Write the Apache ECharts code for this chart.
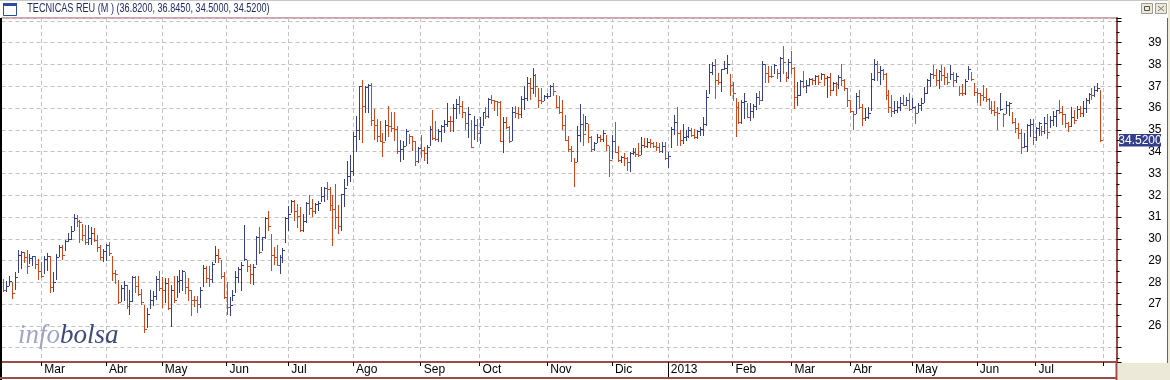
<!DOCTYPE html>
<html><head><meta charset="utf-8">
<script src="https://cdn.jsdelivr.net/npm/echarts@6/dist/echarts.min.js"></script>
<style>html,body{margin:0;padding:0;background:#fff}#c{width:1170px;height:380px}</style>
</head><body><div id="c"></div>
<script>
// ---- data (daily H / L / C, Feb 2012 - Jul 2013) ----
const highs = [
28.16,28.08,28.31,28.00,28.49,29.49,29.46,29.41,29.49,29.30,
29.23,29.23,29.08,28.95,29.23,29.35,29.23,28.46,29.30,29.70,
29.70,29.96,30.28,30.58,31.14,31.10,30.88,30.67,30.61,30.64,
30.56,30.48,30.19,
29.73,29.53,29.78,29.84,29.20,28.58,28.13,27.90,28.08,27.90,
27.67,28.28,28.31,28.31,27.71,26.98,26.83,27.67,27.59,28.28,
28.51,28.23,28.20,28.20,27.90,28.28,28.28,28.55,28.58,28.46,
28.20,27.67,27.36,
27.38,27.79,28.80,28.76,28.76,28.92,29.67,29.52,29.03,28.47,
28.01,27.34,27.66,28.53,28.71,28.92,30.63,29.03,28.83,28.83,
30.15,30.56,30.10,30.98,31.27,30.21,29.60,29.72,29.26,29.56,
30.98,31.50,
31.79,31.79,31.59,31.44,31.15,31.68,31.99,31.84,31.64,31.75,
32.39,32.36,32.60,32.36,31.99,32.51,31.56,32.07,32.76,33.58,
33.86,34.88,35.65,37.02,37.27,36.99,37.11,37.16,35.97,35.49,
35.39,34.85,35.46,36.10,35.84,35.84,35.16,34.54,34.47,35.05,
34.82,34.70,34.47,34.21,34.77,34.21,34.31,35.16,35.92,35.39,
35.03,35.23,35.43,36.21,35.65,36.20,36.41,36.53,36.30,35.84,
36.04,35.46,35.65,35.51,35.61,35.83,36.07,36.46,36.61,36.38,
36.33,36.30,35.61,35.61,35.16,36.07,36.10,36.07,36.53,36.99,
37.42,37.37,37.83,37.57,36.91,36.91,36.61,36.68,37.07,37.14,
36.61,36.53,36.35,35.69,34.70,34.27,33.70,35.16,36.20,
35.72,35.63,35.27,34.72,34.46,34.81,34.76,34.99,34.76,34.26,
34.76,35.37,34.26,33.80,33.92,33.77,34.00,34.15,34.15,34.38,
34.66,34.61,34.61,34.56,34.46,34.43,34.38,34.43,34.46,34.00,
35.11,35.68,36.03,34.99,35.27,34.99,35.11,35.07,35.04,34.99,
35.11,35.57,36.85,38.04,38.12,38.24,37.63,37.81,38.15,38.42,
37.58,37.19,36.44,36.29,36.39,36.67,36.21,36.24,36.18,36.67,
36.78,38.15,38.01,37.92,37.92,38.04,37.81,38.34,38.85,37.66,
38.24,38.60,37.89,37.20,37.28,37.69,37.28,37.40,37.40,37.51,
37.51,37.63,37.58,37.46,37.63,37.20,37.20,37.51,38.04,
37.35,36.90,36.36,35.86,36.71,36.82,36.18,36.01,36.06,37.63,
38.24,38.15,37.92,37.78,37.63,36.85,36.59,36.32,36.32,36.52,
36.59,36.52,36.71,36.44,36.09,36.21,36.44,36.97,37.32,37.63,
37.96,37.81,37.73,37.96,37.89,37.63,37.96,37.66,37.63,37.00,
37.09,37.31,37.92,37.66,37.17,36.94,36.71,37.05,36.94,36.44,
36.33,36.32,36.06,36.71,35.78,36.33,36.29,35.80,35.52,35.33,
35.04,34.84,35.25,35.49,35.49,35.14,35.37,35.19,35.57,35.72,
35.63,35.86,35.91,36.36,36.09,35.72,35.37,36.03,35.91,36.09,
36.09,36.33,36.44,36.70,36.94,37.02,37.17,36.845
];
const lows = [
27.59,27.62,27.90,27.28,27.71,28.46,28.68,28.94,28.42,28.89,
28.78,28.68,28.17,28.23,28.43,28.59,27.57,27.59,28.17,29.21,
29.06,29.47,29.92,29.99,30.41,30.58,29.84,29.96,29.78,29.75,
29.78,29.92,29.43,
29.07,28.97,29.04,29.27,28.13,27.97,27.06,27.13,27.21,26.83,
26.55,27.13,27.54,27.44,27.01,25.71,25.95,26.81,26.98,27.25,
27.67,26.87,27.12,26.78,25.98,27.10,27.31,27.54,27.67,27.51,
27.21,26.49,26.90,
26.62,26.85,27.81,28.01,27.85,28.01,28.95,28.92,28.19,27.27,
26.54,26.48,27.17,27.58,28.01,27.66,29.03,28.50,27.96,27.92,
28.85,29.34,29.49,30.02,30.40,28.57,28.85,28.80,28.42,28.95,
29.87,30.40,
31.21,30.87,30.52,30.37,30.34,30.75,31.13,31.03,31.18,31.33,
31.72,31.72,31.84,31.33,29.70,30.49,30.26,30.39,31.49,32.45,
32.63,32.94,34.04,34.57,34.44,35.80,35.80,35.23,34.57,34.50,
34.50,33.78,34.54,34.70,34.96,34.54,33.93,33.55,33.67,34.31,
34.39,34.09,33.40,33.52,33.75,33.63,33.50,34.31,34.59,34.55,
34.47,34.51,34.90,35.16,34.93,34.93,35.54,35.77,35.61,35.05,
34.67,34.19,34.57,34.50,34.39,35.23,35.54,35.61,36.23,35.92,
35.66,34.47,33.96,35.08,34.44,34.54,35.58,35.54,35.61,35.97,
36.38,36.41,36.68,36.53,36.07,36.23,36.38,36.46,36.53,36.58,
36.04,35.77,35.05,34.54,34.01,33.55,32.40,33.55,34.51,
34.30,34.99,34.46,34.05,34.08,34.46,34.50,34.50,34.08,32.86,
33.73,34.00,33.59,33.54,33.39,33.16,33.13,33.89,33.82,33.82,
33.89,34.23,34.20,34.23,34.23,34.08,34.00,34.00,33.65,33.31,
34.23,34.81,34.30,34.30,34.41,34.53,34.66,34.72,34.61,34.61,
34.76,34.76,35.22,36.70,37.55,36.47,37.12,36.77,37.77,37.63,
36.59,36.39,34.72,35.33,35.30,35.52,35.57,35.45,35.57,35.94,
36.18,36.36,37.20,37.20,37.43,37.61,37.40,37.23,37.61,37.23,
37.38,37.61,36.01,36.13,36.59,36.97,36.74,37.05,37.09,37.09,
37.12,37.32,37.08,36.52,36.59,36.82,36.62,36.90,37.08,
36.85,36.09,35.83,35.04,35.75,36.01,35.22,35.45,35.52,35.91,
37.28,37.28,37.09,37.35,36.41,35.83,35.65,35.75,35.83,35.91,
36.13,36.13,35.91,35.98,35.33,35.83,35.91,36.29,36.70,37.02,
37.38,37.05,36.94,37.28,37.12,37.09,37.32,37.00,37.20,36.62,
36.62,36.64,37.35,37.28,36.62,36.26,36.13,36.36,36.33,35.95,
35.75,35.68,35.04,35.91,35.19,35.75,35.68,35.33,34.91,34.64,
33.95,34.20,34.05,34.72,34.34,34.53,34.76,34.76,34.87,34.61,
35.14,35.22,35.17,35.75,35.25,35.14,34.96,35.17,35.33,35.52,
35.63,35.63,35.83,36.21,36.41,36.55,36.77,34.50
];
const closes = [
27.67,27.82,28.08,27.51,28.25,29.26,29.38,29.17,28.77,29.12,
29.20,28.86,28.54,28.28,29.06,29.20,27.80,28.00,29.15,29.63,
29.27,29.92,29.99,30.36,30.94,30.80,30.75,30.19,29.87,30.02,
30.25,29.95,29.63,
29.17,29.43,29.70,29.35,28.43,28.40,27.10,27.74,27.88,26.93,
27.13,28.25,27.82,27.47,27.10,25.86,26.55,27.21,27.36,28.17,
27.74,27.67,27.97,26.83,27.67,27.21,28.05,28.12,28.51,27.79,
27.67,27.21,27.18,
27.02,27.64,28.65,28.19,28.15,28.83,29.24,29.11,28.28,27.35,
26.89,26.97,27.40,28.24,28.60,28.80,29.06,28.76,28.39,28.69,
30.08,29.41,30.07,30.95,30.60,29.26,29.18,28.80,29.17,29.50,
30.95,31.14,
31.75,31.29,31.06,30.42,30.80,31.64,31.41,31.29,31.61,31.66,
31.98,32.33,32.28,31.56,31.38,31.00,30.60,32.05,32.33,32.86,
33.12,34.73,35.00,36.99,36.10,36.96,37.07,35.46,35.23,34.73,
34.50,34.42,35.23,35.19,35.08,35.03,34.01,34.12,34.27,34.96,
34.73,34.47,33.58,34.18,34.09,33.93,34.21,35.03,34.62,34.58,
34.93,35.19,35.28,35.42,35.40,36.00,36.20,36.10,35.84,35.31,
35.74,34.21,35.23,34.85,35.13,35.80,35.65,36.42,36.38,36.30,
36.26,34.50,35.34,35.13,34.47,35.81,35.77,35.72,36.41,36.45,
37.14,36.91,37.53,37.02,36.38,36.30,36.53,36.56,37.02,36.76,
36.04,35.84,35.23,34.54,34.12,34.01,33.52,34.77,35.28,
34.79,35.30,34.69,34.12,34.41,34.69,34.60,34.84,34.30,33.62,
34.49,34.00,33.62,33.74,33.70,33.54,33.92,34.00,33.89,33.86,
34.30,34.26,34.43,34.38,34.26,34.20,34.05,34.26,33.70,33.80,
35.04,35.34,34.85,34.53,34.66,34.72,34.99,34.75,34.66,34.96,
35.02,35.25,36.52,37.66,37.99,37.28,37.20,37.77,37.86,38.01,
37.05,36.71,36.06,35.37,36.29,36.33,35.57,35.86,36.10,36.52,
36.39,38.04,37.63,37.48,37.45,37.99,37.61,38.31,38.13,37.43,
38.12,37.84,36.52,36.59,37.25,37.00,37.05,37.31,37.27,37.48,
37.20,37.58,37.38,37.41,36.82,37.16,37.12,37.43,37.28,
36.90,36.36,35.86,35.72,36.55,36.03,35.52,35.60,35.75,37.31,
38.01,37.66,37.73,37.55,36.59,36.06,35.86,35.91,36.03,36.21,
36.16,36.36,35.95,36.03,35.78,36.13,36.21,36.67,37.28,37.55,
37.51,37.28,37.69,37.51,37.43,37.20,37.58,37.28,37.46,36.70,
36.67,37.25,37.81,37.31,36.74,36.67,36.59,36.52,36.41,35.98,
35.91,35.83,35.75,35.95,35.72,36.13,36.21,35.37,35.10,34.84,
34.20,34.26,35.22,35.27,34.66,35.10,35.30,34.96,35.30,34.91,
35.45,35.63,35.89,35.80,35.71,35.30,35.19,35.57,35.45,35.95,
35.75,35.98,36.36,36.64,36.59,36.85,36.90,34.52
];
const lastOpen = 36.82;
const slotCount = 379;                 // trading-day slots on the time axis
const monthTickIndex = [13,35,54,76,97,119,142,162,185,207,226,248,268,288,309,331,351,374];
const monthTickLabel = ['Mar','Abr','May','Jun','Jul','Ago','Sep','Oct','Nov','Dic','2013','Feb','Mar','Abr','May','Jun','Jul',''];
const yearTickIndex = 226;
const yTickLabels = [26,27,28,29,30,31,32,33,34,35,36,37,38,39];
const titleName = 'TECNICAS REU (M )';

// ---- chart ----
const categories = Array.from({length: slotCount}, (_, i) => String(i));
const tickSet = new Set(monthTickIndex);
const labelMap = new Map(monthTickIndex.map((d, i) => [d, monthTickLabel[i]]));
const BLUE = '#353f8d', ORANGE = '#d3461c';
const seriesData = highs.map((h, i) => [i, h, lows[i], closes[i], (i > 0 && closes[i] > closes[i - 1]) ? 1 : 0]);
const last = closes.length - 1;
const fmt = v => v.toFixed(4);
const titleText = titleName + ' (' + [lastOpen, highs[last], lows[last], closes[last]].map(fmt).join(', ') + ')';

function renderItem(params, api) {
  const i = api.value(0);
  const pH = api.coord([i, api.value(1)]);
  const pL = api.coord([i, api.value(2)]);
  const pC = api.coord([i, api.value(3)]);
  const color = api.value(4) ? BLUE : ORANGE;
  const x = Math.round(pH[0]) + 0.5;
  const yH = Math.round(pH[1]), yL = Math.round(pL[1]), yC = Math.round(pC[1]) + 0.5;
  return {type: 'group', children: [
    {type: 'line', shape: {x1: x, y1: yH, x2: x, y2: yL + 1}, style: {stroke: color, lineWidth: 1}},
    {type: 'line', shape: {x1: x + 0.5, y1: yC, x2: x + 2.5, y2: yC}, style: {stroke: color, lineWidth: 1}}
  ]};
}

const FRAME = '#9c4a4a';
const SANS = 'Liberation Sans, Arial, sans-serif';
const chart = echarts.init(document.getElementById('c'), null, {renderer: 'canvas'});
chart.setOption({
  animation: false,
  backgroundColor: '#fff',
  grid: {left: 1.5, right: 53.5, top: 18, bottom: 18, show: true, borderColor: FRAME, borderWidth: 1, backgroundColor: '#fff'},
  xAxis: [{
    type: 'category', data: categories, boundaryGap: true, position: 'bottom',
    axisLine: {show: true, lineStyle: {color: FRAME, width: 2}},
    axisTick: {show: true, alignWithLabel: true, interval: i => tickSet.has(i), length: 4, lineStyle: {color: '#000'}},
    axisLabel: {show: true, interval: i => !!labelMap.get(i), formatter: v => labelMap.get(Number(v)) || '',
      align: 'left', padding: [0, 0, 0, 3], margin: 2, color: '#000', fontSize: 12, fontFamily: SANS},
    splitLine: {show: true, alignWithLabel: true, interval: i => tickSet.has(i), lineStyle: {color: '#c3c3c3', type: [4, 3]}}
  }, {
    type: 'category', data: categories, boundaryGap: true, position: 'bottom',
    axisLine: {show: false}, axisLabel: {show: false}, splitLine: {show: false},
    axisTick: {show: true, alignWithLabel: true, interval: i => i === yearTickIndex, length: 16, lineStyle: {color: '#000'}}
  }],
  yAxis: {
    type: 'value', position: 'right', min: 24.345, max: 40.132, minInterval: 1, maxInterval: 1,
    axisLine: {show: true, lineStyle: {color: FRAME, width: 2}},
    axisTick: {show: true, length: 5, lineStyle: {color: '#000'}},
    minorTick: {show: true, splitNumber: 2, length: 3, lineStyle: {color: '#000'}},
    splitLine: {show: true, lineStyle: {color: '#c3c3c3', type: [4, 3]}},
    axisLabel: {color: '#000', fontSize: 12, fontFamily: SANS, align: 'right', margin: 45,
      formatter: v => { const r = Math.round(v); return (Math.abs(v - r) < 1e-6 && yTickLabels.includes(r)) ? String(r) : ''; }}
  },
  series: [{type: 'custom', renderItem, data: seriesData, xAxisIndex: 0, yAxisIndex: 0, encode: {x: 0, y: [1, 2, 3]}, clip: true}]
});

const tagY = Math.round(chart.convertToPixel({yAxisIndex: 0}, closes[last]));
chart.setOption({graphic: [
  {type: 'rect', shape: {x: 0, y: 18, width: 2, height: 362}, style: {fill: '#000'}, z: 100},
  {type: 'line', shape: {x1: 0, y1: 378, x2: 1117, y2: 378}, style: {stroke: FRAME, lineWidth: 2}, z: 100},
  {type: 'line', shape: {x1: 1116.5, y1: 362, x2: 1116.5, y2: 380}, style: {stroke: FRAME, lineWidth: 2}, z: 100},
  {type: 'rect', shape: {x: 1118, y: 363, width: 52, height: 17}, style: {fill: '#ece9d8'}, z: 100},
  {type: 'line', shape: {x1: 1167.5, y1: 18, x2: 1167.5, y2: 363}, style: {stroke: FRAME, lineWidth: 1}, z: 100},
  {type: 'rect', shape: {x: 1168, y: 0, width: 2, height: 380}, style: {fill: '#ece9d8'}, z: 100},
  {type: 'line', shape: {x1: 0, y1: 0.5, x2: 1168, y2: 0.5}, style: {stroke: '#c8c8c8', lineWidth: 1}, z: 100},
  // title
  {type: 'text', x: 22, y: 9, scaleX: 0.76, originX: 22, originY: 9, z: 100,
    style: {text: titleText, fill: '#1f2a6b', fontSize: 12, fontFamily: SANS, verticalAlign: 'middle', align: 'left'}},
  // window icon
  {type: 'rect', shape: {x: 3.5, y: 3.5, width: 13, height: 12}, style: {fill: '#fff', stroke: '#2b4f9e', lineWidth: 1}, z: 100},
  {type: 'rect', shape: {x: 3, y: 3, width: 14, height: 3}, style: {fill: '#2b4f9e'}, z: 100},
  // window buttons
  {type: 'rect', shape: {x: 1141.5, y: 3.5, width: 11, height: 10}, style: {fill: '#ece9d8', stroke: '#a09c90', lineWidth: 1}, z: 100},
  {type: 'rect', shape: {x: 1144.5, y: 6.5, width: 5, height: 4}, style: {fill: 'none', stroke: '#555', lineWidth: 1}, z: 101},
  {type: 'rect', shape: {x: 1155.5, y: 3.5, width: 11, height: 10}, style: {fill: '#ece9d8', stroke: '#a09c90', lineWidth: 1}, z: 100},
  {type: 'line', shape: {x1: 1158, y1: 6, x2: 1164, y2: 11}, style: {stroke: '#777', lineWidth: 1}, z: 101},
  {type: 'line', shape: {x1: 1164, y1: 6, x2: 1158, y2: 11}, style: {stroke: '#777', lineWidth: 1}, z: 101},
  // watermark
  {type: 'text', x: 18, y: 336, z: 5, style: {text: '{a|info}{b|bolsa}', verticalAlign: 'middle',
    rich: {a: {fontFamily: 'Liberation Serif, serif', fontStyle: 'italic', fontSize: 27, fill: '#a0a5c3'},
           b: {fontFamily: 'Liberation Serif, serif', fontStyle: 'italic', fontSize: 27, fill: '#3d4a7b'}}}},
  // last price tag
  {type: 'rect', shape: {x: 1119, y: tagY - 6, width: 42, height: 12.5}, style: {fill: '#343f8c'}, z: 110},
  {type: 'text', x: 1140, y: tagY + 0.5, z: 111, style: {text: closes[last].toFixed(4), fill: '#fff', align: 'center', verticalAlign: 'middle', fontSize: 12, fontFamily: SANS}}
]});
</script></body></html>
